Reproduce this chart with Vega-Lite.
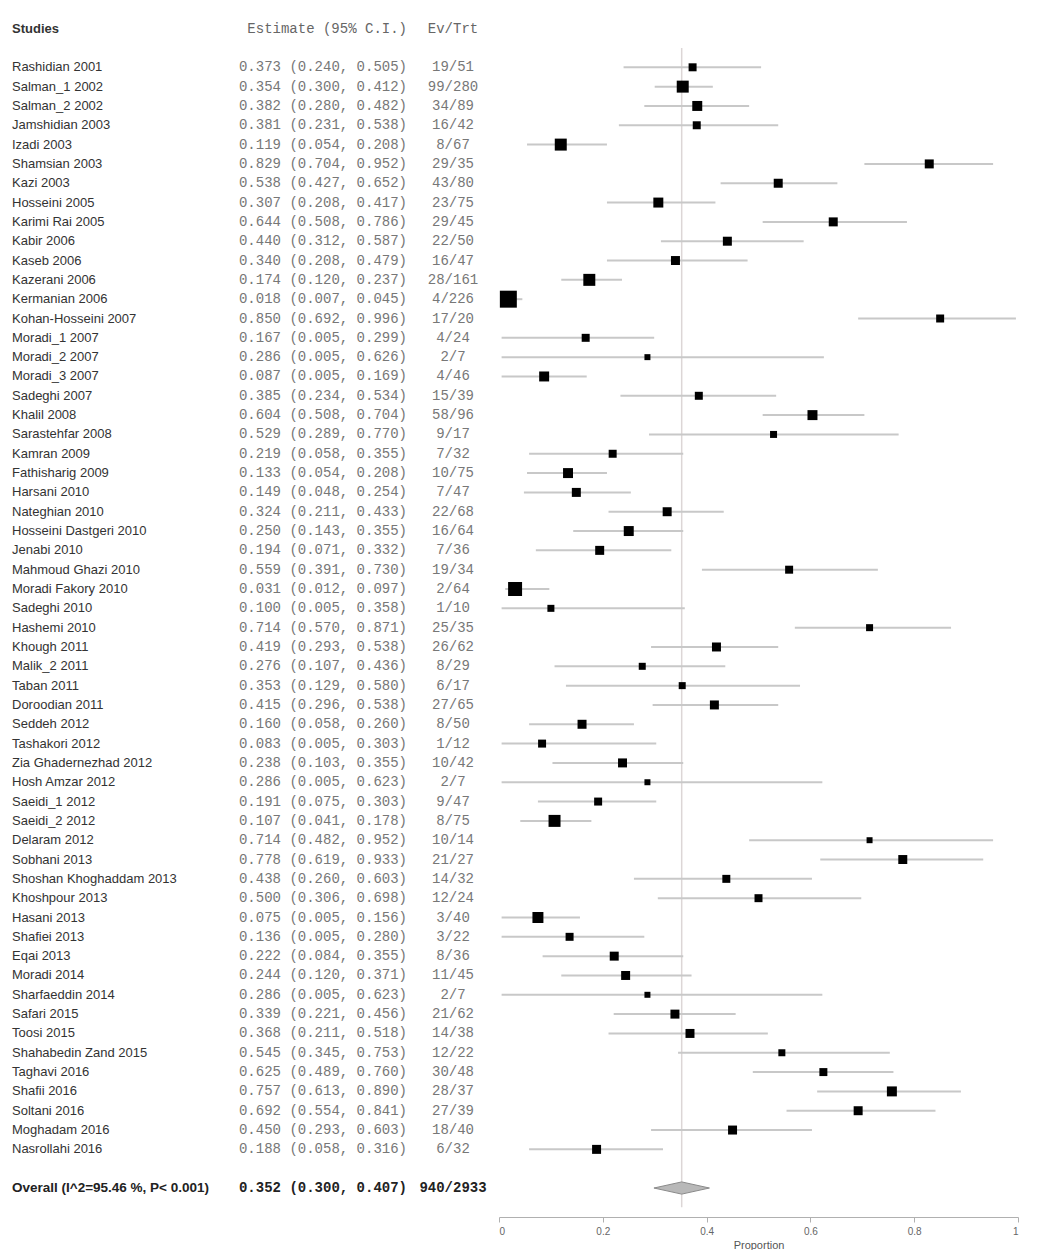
{
  "$schema": "https://vega.github.io/schema/vega-lite/v6.json",
  "padding": {"left": 12, "top": 19, "right": 10, "bottom": 0},
  "background": "white",
  "bounds": "flush",
  "spacing": 0,
  "config": {"view": {"stroke": null}},
  "datasets": {
    "headers": [{"id": "h", "name": "Studies", "est": "Estimate (95% C.I.)", "ev": "Ev/Trt"}],
    "overall": [{"id": "ov", "label": "Overall (I^2=95.46 %, P< 0.001)", "est": 0.352, "lo": 0.300, "hi": 0.407, "ci": "0.352 (0.300, 0.407)", "ev": "940/2933"}],
    "studies": [
      {"id": "s01", "study": "Rashidian 2001", "est": 0.373, "lo": 0.240, "hi": 0.505, "w": 1.39, "ci": "0.373 (0.240, 0.505)", "ev": "19/51"},
      {"id": "s02", "study": "Salman_1 2002", "est": 0.354, "lo": 0.300, "hi": 0.412, "w": 3.13, "ci": "0.354 (0.300, 0.412)", "ev": "99/280"},
      {"id": "s03", "study": "Salman_2 2002", "est": 0.382, "lo": 0.280, "hi": 0.482, "w": 2.17, "ci": "0.382 (0.280, 0.482)", "ev": "34/89"},
      {"id": "s04", "study": "Jamshidian 2003", "est": 0.381, "lo": 0.231, "hi": 0.538, "w": 1.39, "ci": "0.381 (0.231, 0.538)", "ev": "16/42"},
      {"id": "s05", "study": "Izadi 2003", "est": 0.119, "lo": 0.054, "hi": 0.208, "w": 3.13, "ci": "0.119 (0.054, 0.208)", "ev": "8/67"},
      {"id": "s06", "study": "Shamsian 2003", "est": 0.829, "lo": 0.704, "hi": 0.952, "w": 1.76, "ci": "0.829 (0.704, 0.952)", "ev": "29/35"},
      {"id": "s07", "study": "Kazi 2003", "est": 0.538, "lo": 0.427, "hi": 0.652, "w": 1.76, "ci": "0.538 (0.427, 0.652)", "ev": "43/80"},
      {"id": "s08", "study": "Hosseini 2005", "est": 0.307, "lo": 0.208, "hi": 0.417, "w": 2.17, "ci": "0.307 (0.208, 0.417)", "ev": "23/75"},
      {"id": "s09", "study": "Karimi Rai 2005", "est": 0.644, "lo": 0.508, "hi": 0.786, "w": 1.76, "ci": "0.644 (0.508, 0.786)", "ev": "29/45"},
      {"id": "s10", "study": "Kabir 2006", "est": 0.440, "lo": 0.312, "hi": 0.587, "w": 1.76, "ci": "0.440 (0.312, 0.587)", "ev": "22/50"},
      {"id": "s11", "study": "Kaseb 2006", "est": 0.340, "lo": 0.208, "hi": 0.479, "w": 1.76, "ci": "0.340 (0.208, 0.479)", "ev": "16/47"},
      {"id": "s12", "study": "Kazerani 2006", "est": 0.174, "lo": 0.120, "hi": 0.237, "w": 3.13, "ci": "0.174 (0.120, 0.237)", "ev": "28/161"},
      {"id": "s13", "study": "Kermanian 2006", "est": 0.018, "lo": 0.007, "hi": 0.045, "w": 6.28, "ci": "0.018 (0.007, 0.045)", "ev": "4/226"},
      {"id": "s14", "study": "Kohan-Hosseini 2007", "est": 0.850, "lo": 0.692, "hi": 0.996, "w": 1.39, "ci": "0.850 (0.692, 0.996)", "ev": "17/20"},
      {"id": "s15", "study": "Moradi_1 2007", "est": 0.167, "lo": 0.005, "hi": 0.299, "w": 1.39, "ci": "0.167 (0.005, 0.299)", "ev": "4/24"},
      {"id": "s16", "study": "Moradi_2 2007", "est": 0.286, "lo": 0.005, "hi": 0.626, "w": 0.78, "ci": "0.286 (0.005, 0.626)", "ev": "2/7"},
      {"id": "s17", "study": "Moradi_3 2007", "est": 0.087, "lo": 0.005, "hi": 0.169, "w": 2.17, "ci": "0.087 (0.005, 0.169)", "ev": "4/46"},
      {"id": "s18", "study": "Sadeghi 2007", "est": 0.385, "lo": 0.234, "hi": 0.534, "w": 1.39, "ci": "0.385 (0.234, 0.534)", "ev": "15/39"},
      {"id": "s19", "study": "Khalil 2008", "est": 0.604, "lo": 0.508, "hi": 0.704, "w": 2.17, "ci": "0.604 (0.508, 0.704)", "ev": "58/96"},
      {"id": "s20", "study": "Sarastehfar 2008", "est": 0.529, "lo": 0.289, "hi": 0.770, "w": 1.07, "ci": "0.529 (0.289, 0.770)", "ev": "9/17"},
      {"id": "s21", "study": "Kamran 2009", "est": 0.219, "lo": 0.058, "hi": 0.355, "w": 1.39, "ci": "0.219 (0.058, 0.355)", "ev": "7/32"},
      {"id": "s22", "study": "Fathisharig 2009", "est": 0.133, "lo": 0.054, "hi": 0.208, "w": 2.17, "ci": "0.133 (0.054, 0.208)", "ev": "10/75"},
      {"id": "s23", "study": "Harsani 2010", "est": 0.149, "lo": 0.048, "hi": 0.254, "w": 1.76, "ci": "0.149 (0.048, 0.254)", "ev": "7/47"},
      {"id": "s24", "study": "Nateghian 2010", "est": 0.324, "lo": 0.211, "hi": 0.433, "w": 1.76, "ci": "0.324 (0.211, 0.433)", "ev": "22/68"},
      {"id": "s25", "study": "Hosseini Dastgeri 2010", "est": 0.250, "lo": 0.143, "hi": 0.355, "w": 2.17, "ci": "0.250 (0.143, 0.355)", "ev": "16/64"},
      {"id": "s26", "study": "Jenabi 2010", "est": 0.194, "lo": 0.071, "hi": 0.332, "w": 1.76, "ci": "0.194 (0.071, 0.332)", "ev": "7/36"},
      {"id": "s27", "study": "Mahmoud Ghazi 2010", "est": 0.559, "lo": 0.391, "hi": 0.730, "w": 1.39, "ci": "0.559 (0.391, 0.730)", "ev": "19/34"},
      {"id": "s28", "study": "Moradi Fakory 2010", "est": 0.031, "lo": 0.012, "hi": 0.097, "w": 4.26, "ci": "0.031 (0.012, 0.097)", "ev": "2/64"},
      {"id": "s29", "study": "Sadeghi 2010", "est": 0.100, "lo": 0.005, "hi": 0.358, "w": 1.07, "ci": "0.100 (0.005, 0.358)", "ev": "1/10"},
      {"id": "s30", "study": "Hashemi 2010", "est": 0.714, "lo": 0.570, "hi": 0.871, "w": 1.07, "ci": "0.714 (0.570, 0.871)", "ev": "25/35"},
      {"id": "s31", "study": "Khough 2011", "est": 0.419, "lo": 0.293, "hi": 0.538, "w": 1.76, "ci": "0.419 (0.293, 0.538)", "ev": "26/62"},
      {"id": "s32", "study": "Malik_2 2011", "est": 0.276, "lo": 0.107, "hi": 0.436, "w": 1.07, "ci": "0.276 (0.107, 0.436)", "ev": "8/29"},
      {"id": "s33", "study": "Taban 2011", "est": 0.353, "lo": 0.129, "hi": 0.580, "w": 1.07, "ci": "0.353 (0.129, 0.580)", "ev": "6/17"},
      {"id": "s34", "study": "Doroodian 2011", "est": 0.415, "lo": 0.296, "hi": 0.538, "w": 1.76, "ci": "0.415 (0.296, 0.538)", "ev": "27/65"},
      {"id": "s35", "study": "Seddeh 2012", "est": 0.160, "lo": 0.058, "hi": 0.260, "w": 1.76, "ci": "0.160 (0.058, 0.260)", "ev": "8/50"},
      {"id": "s36", "study": "Tashakori 2012", "est": 0.083, "lo": 0.005, "hi": 0.303, "w": 1.39, "ci": "0.083 (0.005, 0.303)", "ev": "1/12"},
      {"id": "s37", "study": "Zia Ghadernezhad 2012", "est": 0.238, "lo": 0.103, "hi": 0.355, "w": 1.76, "ci": "0.238 (0.103, 0.355)", "ev": "10/42"},
      {"id": "s38", "study": "Hosh Amzar 2012", "est": 0.286, "lo": 0.005, "hi": 0.623, "w": 0.78, "ci": "0.286 (0.005, 0.623)", "ev": "2/7"},
      {"id": "s39", "study": "Saeidi_1 2012", "est": 0.191, "lo": 0.075, "hi": 0.303, "w": 1.39, "ci": "0.191 (0.075, 0.303)", "ev": "9/47"},
      {"id": "s40", "study": "Saeidi_2 2012", "est": 0.107, "lo": 0.041, "hi": 0.178, "w": 3.13, "ci": "0.107 (0.041, 0.178)", "ev": "8/75"},
      {"id": "s41", "study": "Delaram 2012", "est": 0.714, "lo": 0.482, "hi": 0.952, "w": 0.78, "ci": "0.714 (0.482, 0.952)", "ev": "10/14"},
      {"id": "s42", "study": "Sobhani 2013", "est": 0.778, "lo": 0.619, "hi": 0.933, "w": 1.76, "ci": "0.778 (0.619, 0.933)", "ev": "21/27"},
      {"id": "s43", "study": "Shoshan Khoghaddam 2013", "est": 0.438, "lo": 0.260, "hi": 0.603, "w": 1.39, "ci": "0.438 (0.260, 0.603)", "ev": "14/32"},
      {"id": "s44", "study": "Khoshpour 2013", "est": 0.500, "lo": 0.306, "hi": 0.698, "w": 1.39, "ci": "0.500 (0.306, 0.698)", "ev": "12/24"},
      {"id": "s45", "study": "Hasani 2013", "est": 0.075, "lo": 0.005, "hi": 0.156, "w": 2.63, "ci": "0.075 (0.005, 0.156)", "ev": "3/40"},
      {"id": "s46", "study": "Shafiei 2013", "est": 0.136, "lo": 0.005, "hi": 0.280, "w": 1.39, "ci": "0.136 (0.005, 0.280)", "ev": "3/22"},
      {"id": "s47", "study": "Eqai 2013", "est": 0.222, "lo": 0.084, "hi": 0.355, "w": 1.76, "ci": "0.222 (0.084, 0.355)", "ev": "8/36"},
      {"id": "s48", "study": "Moradi 2014", "est": 0.244, "lo": 0.120, "hi": 0.371, "w": 1.76, "ci": "0.244 (0.120, 0.371)", "ev": "11/45"},
      {"id": "s49", "study": "Sharfaeddin 2014", "est": 0.286, "lo": 0.005, "hi": 0.623, "w": 0.78, "ci": "0.286 (0.005, 0.623)", "ev": "2/7"},
      {"id": "s50", "study": "Safari 2015", "est": 0.339, "lo": 0.221, "hi": 0.456, "w": 1.76, "ci": "0.339 (0.221, 0.456)", "ev": "21/62"},
      {"id": "s51", "study": "Toosi 2015", "est": 0.368, "lo": 0.211, "hi": 0.518, "w": 1.76, "ci": "0.368 (0.211, 0.518)", "ev": "14/38"},
      {"id": "s52", "study": "Shahabedin Zand 2015", "est": 0.545, "lo": 0.345, "hi": 0.753, "w": 1.07, "ci": "0.545 (0.345, 0.753)", "ev": "12/22"},
      {"id": "s53", "study": "Taghavi 2016", "est": 0.625, "lo": 0.489, "hi": 0.760, "w": 1.39, "ci": "0.625 (0.489, 0.760)", "ev": "30/48"},
      {"id": "s54", "study": "Shafii 2016", "est": 0.757, "lo": 0.613, "hi": 0.890, "w": 2.17, "ci": "0.757 (0.613, 0.890)", "ev": "28/37"},
      {"id": "s55", "study": "Soltani 2016", "est": 0.692, "lo": 0.554, "hi": 0.841, "w": 1.76, "ci": "0.692 (0.554, 0.841)", "ev": "27/39"},
      {"id": "s56", "study": "Moghadam 2016", "est": 0.450, "lo": 0.293, "hi": 0.603, "w": 1.76, "ci": "0.450 (0.293, 0.603)", "ev": "18/40"},
      {"id": "s57", "study": "Nasrollahi 2016", "est": 0.188, "lo": 0.058, "hi": 0.316, "w": 1.76, "ci": "0.188 (0.058, 0.316)", "ev": "6/32"}
    ]
  },
  "hconcat": [
    {
      "width": 215, "height": 1198,
      "layer": [
        {"data": {"name": "studies"},
         "mark": {"type": "text", "align": "left", "baseline": "middle", "font": "Liberation Sans", "fontSize": 13, "color": "#333333"},
         "encoding": {"x": {"value": 0},
           "y": {"field": "id", "type": "nominal", "axis": null, "scale": {"type": "point", "padding": 0.5, "domain": ["h","g1","s01","s02","s03","s04","s05","s06","s07","s08","s09","s10","s11","s12","s13","s14","s15","s16","s17","s18","s19","s20","s21","s22","s23","s24","s25","s26","s27","s28","s29","s30","s31","s32","s33","s34","s35","s36","s37","s38","s39","s40","s41","s42","s43","s44","s45","s46","s47","s48","s49","s50","s51","s52","s53","s54","s55","s56","s57","g2","ov","g3"]}},
           "text": {"field": "study"}}},
        {"data": {"name": "headers"},
         "mark": {"type": "text", "align": "left", "baseline": "middle", "font": "Liberation Sans", "fontSize": 13, "fontWeight": "bold", "color": "#333333"},
         "encoding": {"x": {"value": 0},
           "y": {"field": "id", "type": "nominal", "axis": null, "scale": {"type": "point", "padding": 0.5, "domain": ["h","g1","s01","s02","s03","s04","s05","s06","s07","s08","s09","s10","s11","s12","s13","s14","s15","s16","s17","s18","s19","s20","s21","s22","s23","s24","s25","s26","s27","s28","s29","s30","s31","s32","s33","s34","s35","s36","s37","s38","s39","s40","s41","s42","s43","s44","s45","s46","s47","s48","s49","s50","s51","s52","s53","s54","s55","s56","s57","g2","ov","g3"]}},
           "text": {"field": "name"}}},
        {"data": {"name": "overall"},
         "mark": {"type": "text", "align": "left", "baseline": "middle", "font": "Liberation Sans", "fontSize": 13.5, "fontWeight": "bold", "color": "#222222"},
         "encoding": {"x": {"value": 0},
           "y": {"field": "id", "type": "nominal", "axis": null, "scale": {"type": "point", "padding": 0.5, "domain": ["h","g1","s01","s02","s03","s04","s05","s06","s07","s08","s09","s10","s11","s12","s13","s14","s15","s16","s17","s18","s19","s20","s21","s22","s23","s24","s25","s26","s27","s28","s29","s30","s31","s32","s33","s34","s35","s36","s37","s38","s39","s40","s41","s42","s43","s44","s45","s46","s47","s48","s49","s50","s51","s52","s53","s54","s55","s56","s57","g2","ov","g3"]}},
           "text": {"field": "label"}}}
      ]
    },
    {
      "width": 180, "height": 1198,
      "layer": [
        {"data": {"name": "studies"},
         "mark": {"type": "text", "align": "right", "baseline": "middle", "font": "Liberation Mono", "fontSize": 14, "color": "#777777"},
         "encoding": {"x": {"value": 180},
           "y": {"field": "id", "type": "nominal", "axis": null, "scale": {"type": "point", "padding": 0.5, "domain": ["h","g1","s01","s02","s03","s04","s05","s06","s07","s08","s09","s10","s11","s12","s13","s14","s15","s16","s17","s18","s19","s20","s21","s22","s23","s24","s25","s26","s27","s28","s29","s30","s31","s32","s33","s34","s35","s36","s37","s38","s39","s40","s41","s42","s43","s44","s45","s46","s47","s48","s49","s50","s51","s52","s53","s54","s55","s56","s57","g2","ov","g3"]}},
           "text": {"field": "ci"}}},
        {"data": {"name": "headers"},
         "mark": {"type": "text", "align": "right", "baseline": "middle", "font": "Liberation Mono", "fontSize": 14, "color": "#666666"},
         "encoding": {"x": {"value": 180},
           "y": {"field": "id", "type": "nominal", "axis": null, "scale": {"type": "point", "padding": 0.5, "domain": ["h","g1","s01","s02","s03","s04","s05","s06","s07","s08","s09","s10","s11","s12","s13","s14","s15","s16","s17","s18","s19","s20","s21","s22","s23","s24","s25","s26","s27","s28","s29","s30","s31","s32","s33","s34","s35","s36","s37","s38","s39","s40","s41","s42","s43","s44","s45","s46","s47","s48","s49","s50","s51","s52","s53","s54","s55","s56","s57","g2","ov","g3"]}},
           "text": {"field": "est"}}},
        {"data": {"name": "overall"},
         "mark": {"type": "text", "align": "right", "baseline": "middle", "font": "Liberation Mono", "fontSize": 14, "fontWeight": "bold", "color": "#222222"},
         "encoding": {"x": {"value": 180},
           "y": {"field": "id", "type": "nominal", "axis": null, "scale": {"type": "point", "padding": 0.5, "domain": ["h","g1","s01","s02","s03","s04","s05","s06","s07","s08","s09","s10","s11","s12","s13","s14","s15","s16","s17","s18","s19","s20","s21","s22","s23","s24","s25","s26","s27","s28","s29","s30","s31","s32","s33","s34","s35","s36","s37","s38","s39","s40","s41","s42","s43","s44","s45","s46","s47","s48","s49","s50","s51","s52","s53","s54","s55","s56","s57","g2","ov","g3"]}},
           "text": {"field": "ci"}}}
      ]
    },
    {
      "width": 92, "height": 1198,
      "layer": [
        {"data": {"name": "studies"},
         "mark": {"type": "text", "align": "center", "baseline": "middle", "font": "Liberation Mono", "fontSize": 14, "color": "#777777"},
         "encoding": {"x": {"value": 46},
           "y": {"field": "id", "type": "nominal", "axis": null, "scale": {"type": "point", "padding": 0.5, "domain": ["h","g1","s01","s02","s03","s04","s05","s06","s07","s08","s09","s10","s11","s12","s13","s14","s15","s16","s17","s18","s19","s20","s21","s22","s23","s24","s25","s26","s27","s28","s29","s30","s31","s32","s33","s34","s35","s36","s37","s38","s39","s40","s41","s42","s43","s44","s45","s46","s47","s48","s49","s50","s51","s52","s53","s54","s55","s56","s57","g2","ov","g3"]}},
           "text": {"field": "ev"}}},
        {"data": {"name": "headers"},
         "mark": {"type": "text", "align": "center", "baseline": "middle", "font": "Liberation Mono", "fontSize": 14, "color": "#666666"},
         "encoding": {"x": {"value": 46},
           "y": {"field": "id", "type": "nominal", "axis": null, "scale": {"type": "point", "padding": 0.5, "domain": ["h","g1","s01","s02","s03","s04","s05","s06","s07","s08","s09","s10","s11","s12","s13","s14","s15","s16","s17","s18","s19","s20","s21","s22","s23","s24","s25","s26","s27","s28","s29","s30","s31","s32","s33","s34","s35","s36","s37","s38","s39","s40","s41","s42","s43","s44","s45","s46","s47","s48","s49","s50","s51","s52","s53","s54","s55","s56","s57","g2","ov","g3"]}},
           "text": {"field": "ev"}}},
        {"data": {"name": "overall"},
         "mark": {"type": "text", "align": "center", "baseline": "middle", "font": "Liberation Mono", "fontSize": 14, "fontWeight": "bold", "color": "#222222"},
         "encoding": {"x": {"value": 46},
           "y": {"field": "id", "type": "nominal", "axis": null, "scale": {"type": "point", "padding": 0.5, "domain": ["h","g1","s01","s02","s03","s04","s05","s06","s07","s08","s09","s10","s11","s12","s13","s14","s15","s16","s17","s18","s19","s20","s21","s22","s23","s24","s25","s26","s27","s28","s29","s30","s31","s32","s33","s34","s35","s36","s37","s38","s39","s40","s41","s42","s43","s44","s45","s46","s47","s48","s49","s50","s51","s52","s53","s54","s55","s56","s57","g2","ov","g3"]}},
           "text": {"field": "ev"}}}
      ]
    },
    {
      "width": 519, "height": 1198,
      "layer": [
        {"data": {"name": "overall"},
         "mark": {"type": "rule", "color": "#dcd6d6", "strokeWidth": 1.5},
         "encoding": {
           "x": {"field": "est", "type": "quantitative", "scale": {"domain": [0, 1], "nice": false, "zero": false},
             "axis": {"title": "Proportion", "values": [0, 0.2, 0.4, 0.6, 0.8, 1], "format": "~g", "grid": false, "domainColor": "#b0b0b0", "tickColor": "#b0b0b0", "tickSize": 5, "labelFont": "Liberation Sans", "labelFontSize": 10, "labelColor": "#666666", "labelPadding": 4, "titleFont": "Liberation Sans", "titleFontSize": 11, "titleFontWeight": "normal", "titleColor": "#555555", "titlePadding": 3}},
           "y": {"datum": "g1", "type": "nominal", "axis": null, "scale": {"type": "point", "padding": 0.5, "domain": ["h","g1","s01","s02","s03","s04","s05","s06","s07","s08","s09","s10","s11","s12","s13","s14","s15","s16","s17","s18","s19","s20","s21","s22","s23","s24","s25","s26","s27","s28","s29","s30","s31","s32","s33","s34","s35","s36","s37","s38","s39","s40","s41","s42","s43","s44","s45","s46","s47","s48","s49","s50","s51","s52","s53","s54","s55","s56","s57","g2","ov","g3"]}},
           "y2": {"datum": "g3"}}},
        {"data": {"name": "studies"},
         "mark": {"type": "rule", "color": "#c8c8c8", "strokeWidth": 2},
         "encoding": {
           "x": {"field": "lo", "type": "quantitative"},
           "x2": {"field": "hi"},
           "y": {"field": "id", "type": "nominal", "axis": null, "scale": {"type": "point", "padding": 0.5, "domain": ["h","g1","s01","s02","s03","s04","s05","s06","s07","s08","s09","s10","s11","s12","s13","s14","s15","s16","s17","s18","s19","s20","s21","s22","s23","s24","s25","s26","s27","s28","s29","s30","s31","s32","s33","s34","s35","s36","s37","s38","s39","s40","s41","s42","s43","s44","s45","s46","s47","s48","s49","s50","s51","s52","s53","s54","s55","s56","s57","g2","ov","g3"]}}}},
        {"data": {"name": "studies"},
         "mark": {"type": "point", "shape": "square", "filled": true, "color": "#000000", "opacity": 1},
         "encoding": {
           "x": {"field": "est", "type": "quantitative"},
           "y": {"field": "id", "type": "nominal", "axis": null, "scale": {"type": "point", "padding": 0.5, "domain": ["h","g1","s01","s02","s03","s04","s05","s06","s07","s08","s09","s10","s11","s12","s13","s14","s15","s16","s17","s18","s19","s20","s21","s22","s23","s24","s25","s26","s27","s28","s29","s30","s31","s32","s33","s34","s35","s36","s37","s38","s39","s40","s41","s42","s43","s44","s45","s46","s47","s48","s49","s50","s51","s52","s53","s54","s55","s56","s57","g2","ov","g3"]}},
           "size": {"field": "w", "type": "quantitative", "scale": {"domain": [0, 6.3], "range": [0, 289]}, "legend": null}}},
        {"data": {"name": "overall"},
         "mark": {"type": "point", "shape": "M-1,0L0,-0.22L1,0L0,0.22Z", "filled": true, "fill": "#b8b8b8", "stroke": "#8a8a8a", "strokeWidth": 1, "size": 3080, "opacity": 1},
         "encoding": {
           "x": {"field": "est", "type": "quantitative"},
           "y": {"field": "id", "type": "nominal", "axis": null, "scale": {"type": "point", "padding": 0.5, "domain": ["h","g1","s01","s02","s03","s04","s05","s06","s07","s08","s09","s10","s11","s12","s13","s14","s15","s16","s17","s18","s19","s20","s21","s22","s23","s24","s25","s26","s27","s28","s29","s30","s31","s32","s33","s34","s35","s36","s37","s38","s39","s40","s41","s42","s43","s44","s45","s46","s47","s48","s49","s50","s51","s52","s53","s54","s55","s56","s57","g2","ov","g3"]}}}}
      ]
    }
  ]
}
